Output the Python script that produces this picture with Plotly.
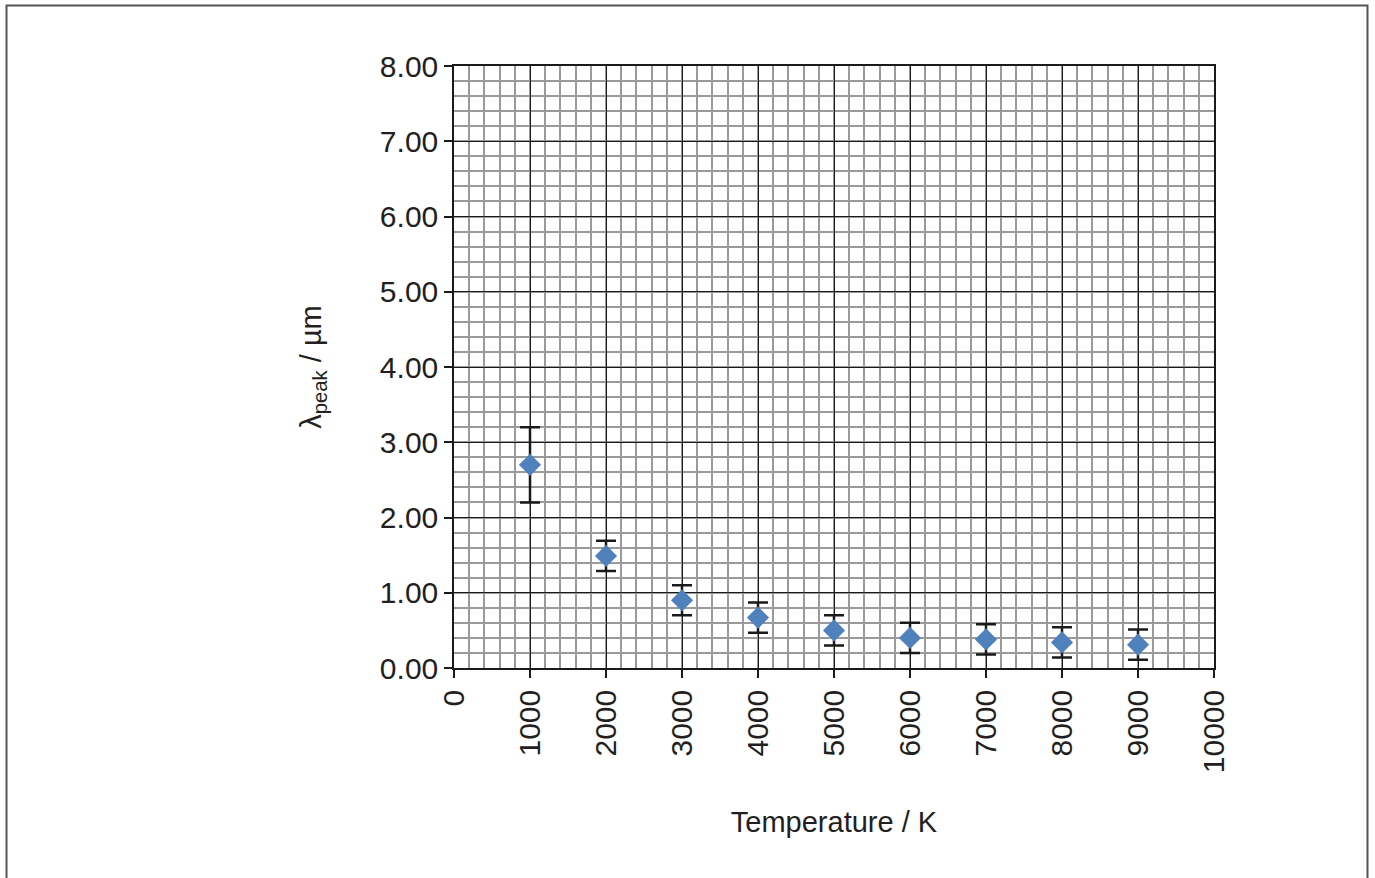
import plotly.graph_objects as go

temperature_K = [1000, 2000, 3000, 4000, 5000, 6000, 7000, 8000, 9000]
lambda_peak_um = [2.70, 1.49, 0.90, 0.67, 0.50, 0.40, 0.38, 0.34, 0.31]
error_um = [0.50, 0.20, 0.20, 0.20, 0.20, 0.20, 0.20, 0.20, 0.20]

x_ticks = [0, 1000, 2000, 3000, 4000, 5000, 6000, 7000, 8000, 9000, 10000]
y_ticks = [0, 1, 2, 3, 4, 5, 6, 7, 8]
y_tick_text = [f"{v:.2f}" for v in y_ticks]

W, H = 1375, 878
L, R, T, B = 454, 161, 66, 210
pw, ph = W - L - R, H - T - B

fig = go.Figure()
fig.add_trace(go.Scatter(
    x=temperature_K, y=lambda_peak_um, mode="markers",
    marker=dict(symbol="diamond", size=17, color="#4F81BD", line=dict(width=0)),
    error_y=dict(type="data", array=error_um, visible=True, color="#1a1a1a",
                 thickness=2.5, width=10),
    showlegend=False,
))

font = "Liberation Sans, Arial, sans-serif"
axis_common = dict(
    showline=True, linecolor="#1a1a1a", linewidth=1.5, mirror=True,
    ticks="outside", ticklen=8, tickcolor="#1a1a1a", tickwidth=1.5,
    showgrid=True, gridcolor="#1a1a1a", gridwidth=1.2, zeroline=False,
    tickfont=dict(family=font, size=30, color="#231f20"),
)
fig.update_xaxes(
    range=[0, 10000], tickvals=x_ticks, ticktext=[str(v) for v in x_ticks],
    tickangle=-90,
    minor=dict(dtick=200, showgrid=True, gridcolor="#9a9a9a", gridwidth=1.5, ticks=""),
    title=dict(text="Temperature / K", font=dict(family=font, size=29, color="#231f20"), standoff=40),
    **axis_common,
)
fig.update_yaxes(
    range=[0, 8], tickvals=y_ticks, ticktext=y_tick_text,
    minor=dict(dtick=0.2, showgrid=True, gridcolor="#9a9a9a", gridwidth=1.5, ticks=""),
    title=dict(text="λ<sub>peak</sub> / µm", font=dict(family=font, size=29, color="#231f20"), standoff=50),
    **axis_common,
)

def px_x(p):
    return (p - L) / pw

def px_y(p):
    return (H - B - p) / ph

fig.add_shape(type="rect", xref="paper", yref="paper",
              x0=px_x(6.5), x1=px_x(1367.5), y0=px_y(940), y1=px_y(5.5),
              line=dict(color="#555555", width=2), fillcolor="rgba(0,0,0,0)", layer="below")

fig.update_layout(
    width=W, height=H,
    margin=dict(l=L, r=R, t=T, b=B, autoexpand=False),
    paper_bgcolor="white", plot_bgcolor="white",
    font=dict(family=font, color="#231f20"),
)

fig.write_html("out.html")
